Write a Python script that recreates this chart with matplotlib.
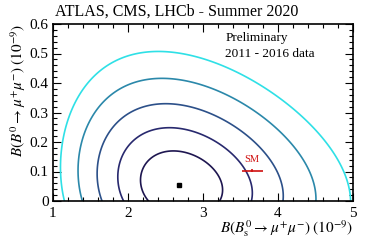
import numpy as np
import matplotlib
matplotlib.use("Agg")
import matplotlib.pyplot as plt

plt.rcParams['font.family'] = ['Liberation Serif', 'DejaVu Serif']
plt.rcParams['mathtext.fontset'] = 'stix'

# best fit and SM point (units of 1e-9)
bs_fit, b0_fit = 2.69, 0.054
bs_sm, bs_sm_err = 3.66, 0.14
b0_sm = 0.103

# likelihood shape (Gaussian in sqrt(Bs))
sig_sqrt_bs = 0.11
sig_b0 = 0.0735
skew_b0 = 0.33
rho = -0.15

# 2D contour levels: 1..5 sigma for 2 dof
levels = [2.30, 6.18, 11.83, 19.33, 28.74]
colors = ['#1e1650', '#28296e', '#2c5089', '#2b88aa', '#2fe0e6']

x = np.linspace(0.5, 5.5, 600)
y = np.linspace(-0.04, 0.7, 600)
X, Y = np.meshgrid(x, y)
du = (np.sqrt(X) - np.sqrt(bs_fit)) / sig_sqrt_bs
dy = Y - b0_fit
dv = dy / (sig_b0 * (1 + skew_b0 * dy))
chi2 = (du**2 - 2 * rho * du * dv + dv**2) / (1 - rho**2)

fig = plt.figure(figsize=(3.74, 2.4), dpi=100)
ax = fig.add_axes([0.141, 0.1625, 0.802, 0.7375])

ax.contour(X, Y, chi2, levels=levels, colors=colors, linewidths=1.2)
ax.plot([bs_fit], [b0_fit], 's', color='black', ms=2.5)
ax.errorbar([bs_sm], [b0_sm], xerr=[bs_sm_err], yerr=[0.006], fmt='none',
            ecolor='#d01010', elinewidth=1.2, capsize=0)
ax.text(bs_sm, b0_sm + 0.022, 'SM', color='#d01010', fontsize=7.5,
        ha='center', va='bottom')

ax.set_xlim(1, 5)
ax.set_ylim(0, 0.6)
ax.set_xticks([1, 2, 3, 4, 5])
ax.set_yticks([0, 0.1, 0.2, 0.3, 0.4, 0.5, 0.6])
ax.set_yticklabels(['0', '0.1', '0.2', '0.3', '0.4', '0.5', '0.6'])
ax.set_xticks(np.arange(1, 5.01, 0.2), minor=True)
ax.set_yticks(np.arange(0, 0.601, 0.02), minor=True)
ax.tick_params(which='both', direction='in', top=True, right=True, labelsize=11)
ax.tick_params(which='major', length=6, width=0.8)
ax.tick_params(which='minor', length=3, width=0.8)
ax.tick_params(axis='x', pad=4)
ax.tick_params(axis='y', pad=3)
for s in ax.spines.values():
    s.set_linewidth(1.2)

ax.set_xlabel(r'$B(B_{\rm s}^0 \rightarrow \mu^{+}\mu^{-})\ (10^{-9})$',
              fontsize=11, loc='right', labelpad=-1)
ax.set_ylabel(r'$B(B^0 \rightarrow \mu^{+}\mu^{-})\ (10^{-9})$',
              fontsize=11, loc='top', labelpad=1)

fig.text(0.147, 0.935, 'ATLAS, CMS, LHCb - Summer 2020', fontsize=11.5,
         ha='left', va='baseline')
ax.text(0.575, 0.955, 'Preliminary', transform=ax.transAxes, fontsize=9.5,
        ha='left', va='top')
ax.text(0.575, 0.865, '2011 - 2016 data', transform=ax.transAxes, fontsize=9.5,
        ha='left', va='top')

fig.savefig('out.png', dpi=100)
